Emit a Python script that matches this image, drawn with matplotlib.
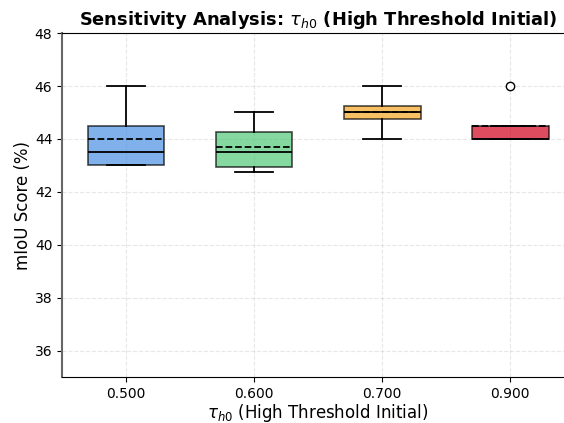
import numpy as np
import matplotlib
matplotlib.use("Agg")
import matplotlib.pyplot as plt

# mIoU scores per tau_h0 setting (5 runs each)
labels = ['0.500', '0.600', '0.700', '0.900']
scores_050 = [43.0, 43.0, 43.5, 44.5, 46.0]
scores_060 = [42.75, 42.95, 43.5, 44.25, 45.0]
scores_070 = [44.0, 44.75, 45.0, 45.25, 46.0]
scores_090 = [44.0, 44.0, 44.0, 44.5, 46.0]
colors = ['#4A90E2', '#50C878', '#F5A623', '#D0021B']

data = [scores_050, scores_060, scores_070, scores_090]

fig = plt.figure(figsize=(5.64, 4.23), dpi=100)
ax = fig.add_axes([0.110, 0.1087, 0.908, 0.813])

bp = ax.boxplot(data, widths=0.6, patch_artist=True, showmeans=True,
                meanline=True,
                medianprops=dict(color='black', linewidth=1.3),
                meanprops=dict(color='black', linestyle='--', linewidth=1.3),
                whiskerprops=dict(color='black', linewidth=1.3),
                capprops=dict(color='black', linewidth=1.3),
                flierprops=dict(marker='o', markerfacecolor='white',
                                markeredgecolor='black', markersize=6))
for patch, c in zip(bp['boxes'], colors):
    patch.set_facecolor(c)
    patch.set_alpha(0.7)
    patch.set_edgecolor('black')
    patch.set_linewidth(1.2)

ax.set_xticks([1, 2, 3, 4])
ax.set_xticklabels(labels)
ax.set_xlim(0.5, 4.5)
ax.set_ylim(35, 48)
ax.set_yticks([36, 38, 40, 42, 44, 46, 48])
ax.tick_params(labelsize=10)

ax.grid(True, linestyle='--', alpha=0.3)
ax.set_axisbelow(True)

ax.spines['left'].set_color('#666666')
ax.spines['left'].set_linewidth(1.5)
ax.spines['right'].set_visible(False)

ax.set_xlabel(r'$\tau_{h0}$ (High Threshold Initial)', fontsize=12, labelpad=1)
ax.set_ylabel('mIoU Score (%)', fontsize=12, labelpad=2)
ax.set_title(r'Sensitivity Analysis: $\tau_{h0}$ (High Threshold Initial)',
             fontsize=12.9, fontweight='bold')

fig.savefig('out.png', dpi=100)
